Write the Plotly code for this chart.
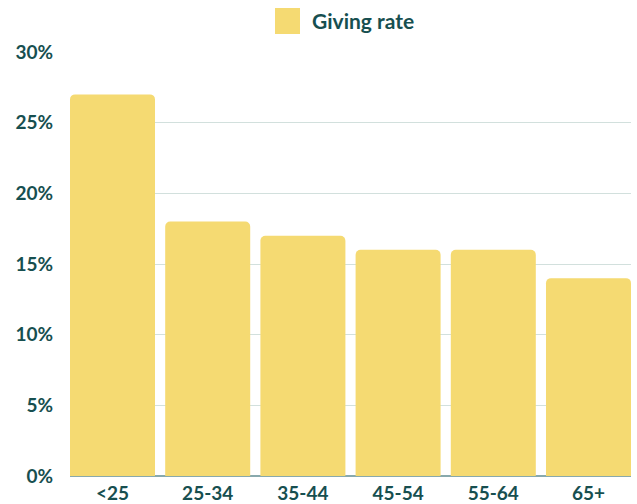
import plotly.graph_objects as go

categories = ["<25", "25-34", "35-44", "45-54", "55-64", "65+"]
giving_rate = [27, 18, 17, 16, 16, 14]
series_name = "Giving rate"
y_ticks = [0, 5, 10, 15, 20, 25, 30]
y_tick_labels = ["0%", "5%", "10%", "15%", "20%", "25%", "30%"]

text_color = "#174f50"
bar_color = "#f5da72"
font_family = "Lato, 'Open Sans', sans-serif"

W, H = 637, 504
ML, MR, MT, MB = 70, 6, 52, 28
pw, ph = W - ML - MR, H - MT - MB
BARGAP = 0.107

def px_x(x):
    return (x - ML) / pw

def px_y(y):
    return (H - MB - y) / ph

fig = go.Figure()
fig.add_trace(go.Bar(
    x=categories, y=giving_rate, name=series_name,
    marker=dict(color=bar_color, line=dict(width=0)),
    showlegend=False,
))

# legend drawn as a swatch + text (larger swatch than Plotly's native legend)
fig.add_shape(type="rect", xref="paper", yref="paper",
              x0=px_x(275), x1=px_x(300), y0=px_y(34), y1=px_y(8),
              fillcolor=bar_color, line=dict(width=0))
fig.add_annotation(text=series_name, xref="paper", yref="paper",
                   x=px_x(310), y=px_y(21), xanchor="left", yanchor="middle",
                   showarrow=False,
                   font=dict(size=21, weight="bold", color=text_color, family=font_family))

fig.update_layout(
    width=W, height=H,
    margin=dict(l=ML, r=MR, t=MT, b=MB),
    plot_bgcolor="white", paper_bgcolor="white",
    bargap=BARGAP,
    barcornerradius=5,
    font=dict(family=font_family, color=text_color, size=17),
    showlegend=False,
)

n = len(categories)
fig.update_xaxes(
    range=[-0.5 + BARGAP / 2, n - 0.5 - BARGAP / 2],
    showgrid=False, showline=False, ticks="",
    tickfont=dict(size=19, weight="bold", color=text_color, family=font_family),
    ticklabelstandoff=4, automargin=False,
)
fig.update_yaxes(
    range=[0, 30], tickvals=y_ticks, ticktext=y_tick_labels,
    showgrid=True, gridcolor="#d2e0dd", gridwidth=1,
    zeroline=True, zerolinecolor="#88a9ad", zerolinewidth=1.5,
    showline=False, ticks="",
    tickfont=dict(size=19, weight="bold", color=text_color, family=font_family),
    ticklabelstandoff=16, automargin=False,
)

fig.write_html("out.html", config={"displayModeBar": False},
               post_script="document.body.style.margin='0';document.body.style.overflow='hidden';")
